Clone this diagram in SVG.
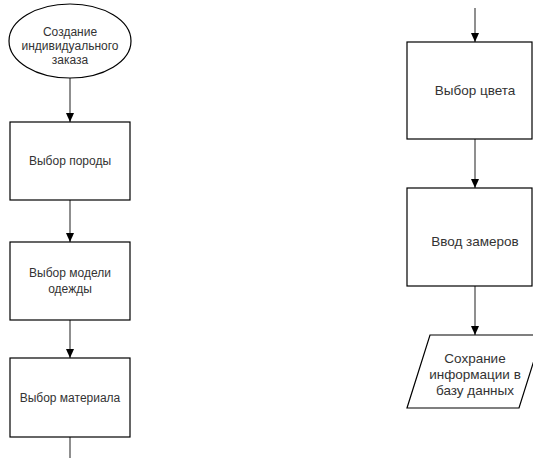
<svg xmlns="http://www.w3.org/2000/svg" width="533" height="458" viewBox="0 0 533 458">
<style>
.shape{fill:#fff;stroke:#000;stroke-width:1.2}
.lbl{font-family:"Liberation Sans",Arial,sans-serif;font-size:12px;fill:#333;text-anchor:middle}
.big{font-size:13.5px}
.edge{fill:none;stroke:#333;stroke-width:1.1}
</style>
<defs>
<marker id="ah" markerWidth="10" markerHeight="10" refX="9" refY="4" orient="auto" markerUnits="userSpaceOnUse">
<path d="M0,0 L9,4 L0,8 Z" fill="#000"/>
</marker>
</defs>
<rect width="533" height="458" fill="#fff"/>
<g id="connectors">
<line class="edge" x1="70" y1="78" x2="70" y2="122" marker-end="url(#ah)"/>
<line class="edge" x1="70" y1="200" x2="70" y2="242" marker-end="url(#ah)"/>
<line class="edge" x1="70" y1="320" x2="70" y2="358" marker-end="url(#ah)"/>
<line class="edge" x1="70" y1="437" x2="70" y2="458"/>
<line class="edge" x1="475" y1="8" x2="475" y2="42" marker-end="url(#ah)"/>
<line class="edge" x1="475" y1="139" x2="475" y2="188" marker-end="url(#ah)"/>
<line class="edge" x1="475" y1="286" x2="475" y2="335" marker-end="url(#ah)"/>
</g>
<g id="start">
<ellipse class="shape" cx="70" cy="41" rx="61" ry="37"/>
<text class="lbl" x="70" y="36">Создание</text>
<text class="lbl" x="70" y="50">индивидуального</text>
<text class="lbl" x="70" y="64">заказа</text>
</g>
<g id="breed">
<rect class="shape" x="10" y="122" width="120" height="78"/>
<text class="lbl" x="70" y="165">Выбор породы</text>
</g>
<g id="model">
<rect class="shape" x="10" y="242" width="120" height="78"/>
<text class="lbl" x="70" y="277">Выбор модели</text>
<text class="lbl" x="70" y="293">одежды</text>
</g>
<g id="material">
<rect class="shape" x="10" y="358" width="120" height="79"/>
<text class="lbl" x="70" y="402">Выбор материала</text>
</g>
<g id="color">
<rect class="shape" x="407" y="42" width="125" height="97"/>
<text class="lbl big" x="475" y="95">Выбор цвета</text>
</g>
<g id="measure">
<rect class="shape" x="407" y="188" width="125" height="98"/>
<text class="lbl big" x="475" y="246">Ввод замеров</text>
</g>
<g id="save">
<polygon class="shape" points="430,335 542,335 519,408 407,408"/>
<text class="lbl big" x="475" y="363">Сохрание</text>
<text class="lbl big" x="475" y="379">информации в</text>
<text class="lbl big" x="475" y="395">базу данных</text>
</g>
</svg>
